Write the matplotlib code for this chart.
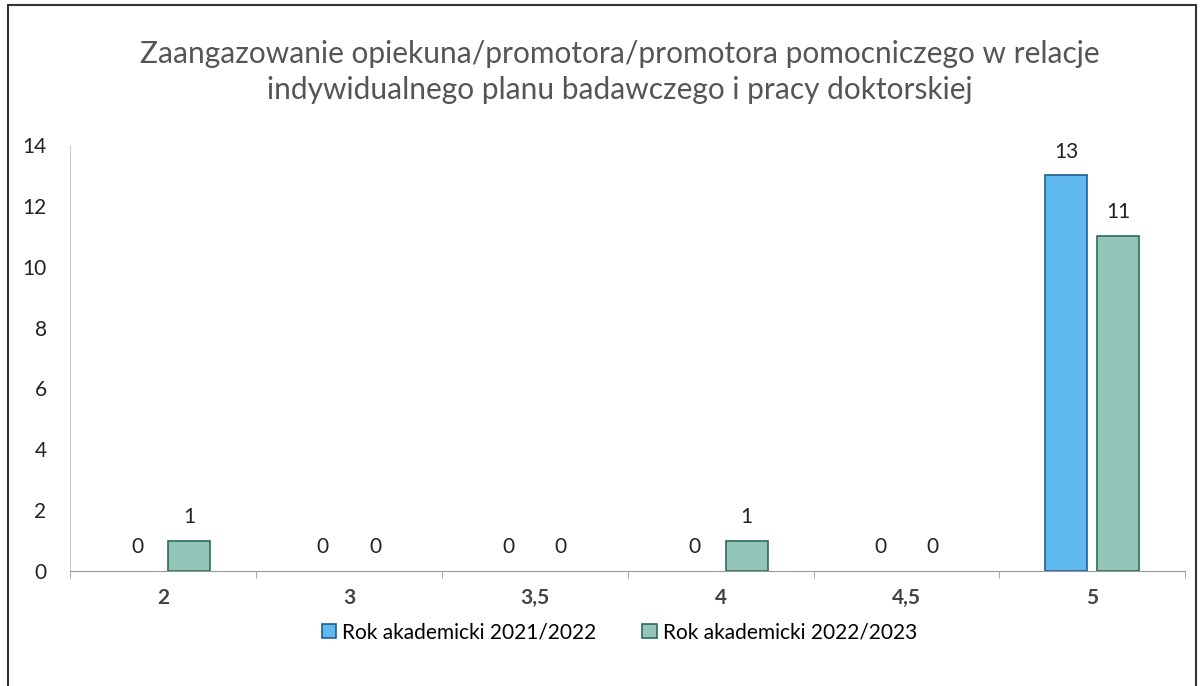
import numpy as np
import matplotlib.pyplot as plt
from matplotlib.patches import Rectangle, Patch

categories = ["2", "3", "3,5", "4", "4,5", "5"]
rok_2021 = [0, 0, 0, 0, 0, 13]
rok_2022 = [1, 0, 0, 1, 0, 11]
series_names = ["Rok akademicki 2021/2022", "Rok akademicki 2022/2023"]

plt.rcParams["font.family"] = ["Lato", "DejaVu Sans"]
fs = 15
colors = ["#5fb8ee", "#93c6b9"]
edges = ["#1f5f8f", "#2d6a5e"]

fig = plt.figure(figsize=(12.03, 6.86), dpi=100)
ax = fig.add_axes([0.0583, 0.1676, 0.927, 0.621])

x = np.arange(len(categories))
w = 0.225
off = 0.14
b1 = ax.bar(x - off, rok_2021, w, color=colors[0], edgecolor=edges[0], linewidth=1.2)
b2 = ax.bar(x + off, rok_2022, w, color=colors[1], edgecolor=edges[1], linewidth=1.2)

for bars in (b1, b2):
    for r in bars:
        if r.get_height() == 0:
            r.set_linewidth(0)
        ax.annotate(str(int(r.get_height())), (r.get_x() + r.get_width() / 2, r.get_height()),
                    xytext=(0, 10), textcoords="offset points", ha="center", va="bottom",
                    fontsize=fs, color="#222222")

ax.set_xlim(-0.5, len(categories) - 0.5)
ax.set_ylim(0, 14)
ax.set_yticks(range(0, 15, 2))
ax.set_xticks(x)
ax.set_xticklabels(categories, fontsize=fs, fontweight="bold", color="#444444")
ax.tick_params(axis="y", labelsize=fs, colors="#222222", length=0, pad=17)
ax.tick_params(axis="x", length=0, pad=12)
ax.set_xticks(np.arange(-0.5, len(categories)), minor=True)
ax.tick_params(axis="x", which="minor", length=5, color="#999999", direction="out")

for s in ["top", "right"]:
    ax.spines[s].set_visible(False)
ax.spines["left"].set_color("#cccccc")
ax.spines["bottom"].set_color("#999999")

fig.text(0.515, 0.895, "Zaangazowanie opiekuna/promotora/promotora pomocniczego w relacje\n"
         "indywidualnego planu badawczego i pracy doktorskiej",
         ha="center", va="center", fontsize=21.5, color="#555555", linespacing=1.35)

handles = [Patch(facecolor=colors[i], edgecolor=edges[i], linewidth=1.2, label=series_names[i])
           for i in range(2)]
fig.legend(handles=handles, loc="center", bbox_to_anchor=(0.515, 0.078), ncol=2,
           frameon=False, fontsize=fs, handlelength=0.7, handleheight=0.7,
           handletextpad=0.3, columnspacing=2.2)

fig.patches.append(Rectangle((0.007, -0.01), 0.987, 1.002, transform=fig.transFigure,
                             fill=False, edgecolor="#333333", linewidth=1.5))

fig.savefig("out.png", dpi=100)
